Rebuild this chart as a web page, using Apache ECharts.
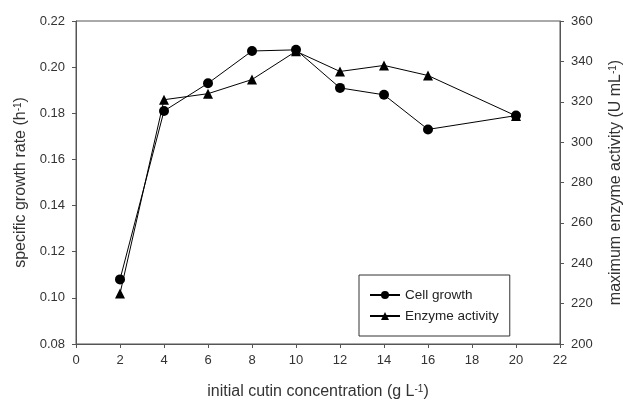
<!DOCTYPE html>
<html>
<head>
<meta charset="utf-8">
<script src="https://cdn.jsdelivr.net/npm/echarts@6/dist/echarts.min.js"></script>
<style>
  html, body { margin: 0; padding: 0; background: #fff; }
  #main { width: 623px; height: 401px; }
</style>
</head>
<body>
<div id="main"></div>
<script>
// cutin concentration (g/L)
var concentration = [2, 4, 6, 8, 10, 12, 14, 16, 20]
// specific growth rate (1/h)
var cellGrowth = [0.108, 0.181, 0.193, 0.207, 0.2075, 0.191, 0.188, 0.173, 0.179]
// maximum enzyme activity (U/mL)
var enzymeActivity = [225, 321, 324, 331, 345, 335, 338, 333, 313]

var fontFamily = 'Liberation Sans, Arial, sans-serif'
var axisColor = '#555'
var labelColor = '#333'

function pairs(xs, ys) {
  return xs.map(function(x, i) { return [x, ys[i]] })
}

var nameStyle = {
  fontFamily: fontFamily,
  fontSize: 16,
  color: labelColor,
  rich: {
    t: { fontFamily: fontFamily, fontSize: 16, color: labelColor },
    s: { fontFamily: fontFamily, fontSize: 10, color: labelColor, verticalAlign: 'top' }
  }
}

var chart = echarts.init(document.getElementById('main'))
var option = {
  animation: false,
  backgroundColor: '#fff',
  grid: {
    left: 76,
    right: 63,
    top: 21,
    bottom: 57,
    outerBoundsMode: 'none',
    containLabel: false,
    show: true,
    borderColor: axisColor,
    borderWidth: 1
  },
  legend: {
    left: 359,
    top: 275,
    orient: 'vertical',
    itemWidth: 30,
    itemHeight: 10,
    itemGap: 7,
    padding: [13, 11, 13, 10],
    borderColor: '#333',
    borderWidth: 1,
    textStyle: { fontFamily: fontFamily, fontSize: 13.5, color: '#222' },
    data: ['Cell growth', 'Enzyme activity']
  },
  xAxis: {
    type: 'value',
    min: 0,
    max: 22,
    interval: 2,
    name: '{t|initial cutin concentration (g L}{s|-1}{t|)}',
    nameLocation: 'middle',
    nameGap: 40,
    nameTextStyle: nameStyle,
    axisLine: { lineStyle: { color: axisColor, width: 1 } },
    axisTick: { length: 4, lineStyle: { color: axisColor } },
    axisLabel: { margin: 10, fontFamily: fontFamily, fontSize: 13, color: labelColor },
    splitLine: { show: false }
  },
  yAxis: [
    {
      type: 'value',
      position: 'left',
      min: 0.08,
      max: 0.22,
      interval: 0.02,
      name: '{t|specific growth rate (h}{s|-1}{t|)}',
      nameLocation: 'middle',
      nameGap: 47,
      nameTextStyle: nameStyle,
      axisLine: { show: true, lineStyle: { color: axisColor, width: 1 } },
      axisTick: { show: true, length: 4, lineStyle: { color: axisColor } },
      axisLabel: {
        margin: 11,
        fontFamily: fontFamily,
        fontSize: 13,
        color: labelColor,
        formatter: function(v) { return v.toFixed(2) }
      },
      splitLine: { show: false }
    },
    {
      type: 'value',
      position: 'right',
      min: 200,
      max: 360,
      interval: 20,
      name: '{t|maximum enzyme activity (U mL}{s|-1}{t|)}',
      nameLocation: 'middle',
      nameGap: 48,
      nameTextStyle: nameStyle,
      axisLine: { show: true, lineStyle: { color: axisColor, width: 1 } },
      axisTick: { show: true, length: 4, lineStyle: { color: axisColor } },
      axisLabel: { margin: 11, fontFamily: fontFamily, fontSize: 13, color: labelColor },
      splitLine: { show: false }
    }
  ],
  series: [
    {
      name: 'Cell growth',
      type: 'line',
      yAxisIndex: 0,
      symbol: 'circle',
      symbolSize: 10,
      itemStyle: { color: '#000' },
      lineStyle: { color: '#000', width: 1 },
      data: pairs(concentration, cellGrowth)
    },
    {
      name: 'Enzyme activity',
      type: 'line',
      yAxisIndex: 1,
      symbol: 'triangle',
      symbolSize: 10,
      itemStyle: { color: '#000' },
      lineStyle: { color: '#000', width: 1 },
      data: pairs(concentration, enzymeActivity)
    }
  ]
}
chart.setOption(option)
</script>
</body>
</html>
